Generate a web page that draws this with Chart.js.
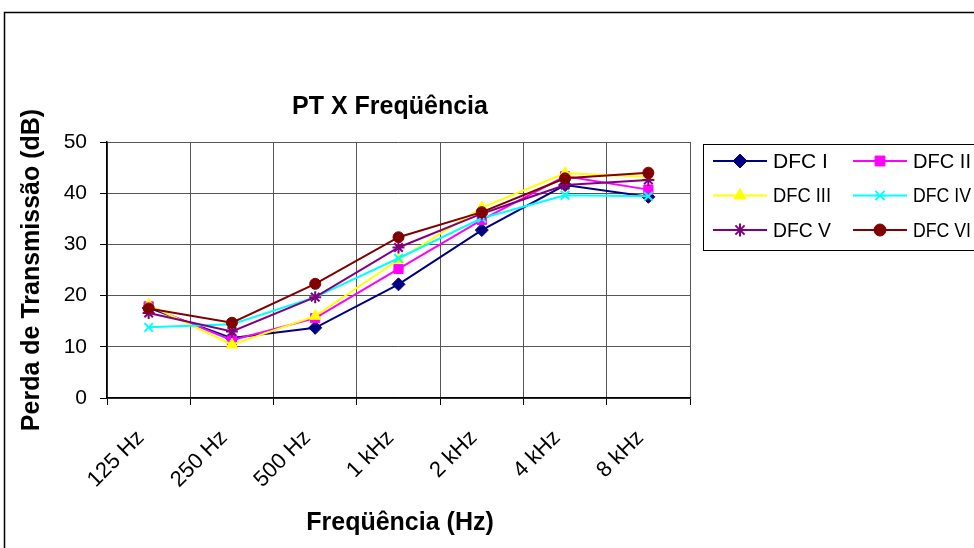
<!DOCTYPE html>
<html>
<head>
<meta charset="utf-8">
<script src="https://cdn.jsdelivr.net/npm/chart.js@4.4.0/dist/chart.umd.min.js"></script>
<style>
  body { margin: 0; background: #fff; }
  canvas { display: block; }
</style>
</head>
<body>
<canvas id="chart" width="974" height="548"></canvas>
<script>
// frequency bands
var bands = ['125 Hz', '250 Hz', '500 Hz', '1 kHz', '2 kHz', '4 kHz', '8 kHz'];
// transmission loss per sample (dB)
var dfc1 = [17.6, 11.7, 13.7, 22.2, 32.8, 41.6, 39.3];
var dfc2 = [17.9, 11.3, 15.6, 25.2, 34.8, 43.3, 40.7];
var dfc3 = [18.2, 10.4, 16.0, 27.0, 37.2, 43.9, 43.2];
var dfc4 = [13.8, 14.4, 19.7, 27.3, 35.1, 39.6, 39.4];
var dfc5 = [16.6, 13.0, 19.7, 29.4, 36.0, 41.6, 42.6];
var dfc6 = [17.5, 14.7, 22.3, 31.4, 36.3, 42.9, 44.0];
var yTicks = [0, 10, 20, 30, 40, 50];

var names = ['DFC I', 'DFC II', 'DFC III', 'DFC IV', 'DFC V', 'DFC VI'];
var series = [dfc1, dfc2, dfc3, dfc4, dfc5, dfc6];
var colors = ['#000080', '#ff00ff', '#ffff00', '#00ffff', '#800080', '#800000'];
var markers = ['rectRot', 'rect', 'triangle', 'crossRot', 'star', 'circle'];
var markerSize = [6.5, 6.5, 6.5, 6, 6, 5.5];

var FONT = '"Liberation Sans", Arial, sans-serif';

var datasets = series.map(function (d, i) {
  return {
    label: names[i],
    data: d,
    borderColor: colors[i],
    backgroundColor: colors[i],
    borderWidth: 2,
    pointStyle: markers[i],
    pointRadius: markerSize[i],
    pointBorderWidth: (markers[i] == 'crossRot' || markers[i] == 'star') ? 2 : 1,
    tension: 0,
    order: series.length - i
  };
});

// frame, title, axis titles and legend
var decor = {
  id: 'decor',
  afterDraw: function (chart) {
    var ctx = chart.ctx;
    ctx.save();
    ctx.strokeStyle = '#000';
    ctx.lineWidth = 1.5;
    ctx.beginPath();
    ctx.moveTo(4.5, 560);
    ctx.lineTo(4.5, 12.5);
    ctx.lineTo(980, 12.5);
    ctx.stroke();

    ctx.fillStyle = '#000';
    ctx.textAlign = 'center';
    ctx.textBaseline = 'middle';
    ctx.font = 'bold 25px ' + FONT;
    ctx.fillText('PT X Freqüência', 390, 107);
    ctx.fillText('Freqüência (Hz)', 400, 523);
    ctx.save();
    ctx.translate(32, 270);
    ctx.rotate(-Math.PI / 2);
    ctx.fillText('Perda de Transmissão (dB)', 0, 0);
    ctx.restore();

    // legend box
    ctx.lineWidth = 1;
    ctx.strokeStyle = '#000';
    ctx.strokeRect(703.5, 144.5, 300, 106);
    ctx.font = '21px ' + FONT;
    ctx.textAlign = 'left';
    chart.data.datasets.forEach(function (ds, i) {
      var col = i % 2, row = Math.floor(i / 2);
      var x0 = col ? 853 : 713;
      var y = 161 + row * 34.5;
      ctx.strokeStyle = ds.borderColor;
      ctx.lineWidth = 2;
      ctx.beginPath();
      ctx.moveTo(x0, y);
      ctx.lineTo(x0 + 54, y);
      ctx.stroke();
      ctx.fillStyle = ds.backgroundColor;
      ctx.lineWidth = ds.pointBorderWidth;
      Chart.helpers.drawPoint(ctx, {
        pointStyle: ds.pointStyle,
        radius: ds.pointRadius + 0.5,
        borderWidth: ds.pointBorderWidth,
        rotation: 0
      }, x0 + 27, y);
      ctx.fillStyle = '#000';
      ctx.fillText(ds.label, x0 + 60, y + 1, 58);
    });
    ctx.restore();
  }
};

var chart = new Chart('chart', {
  type: 'line',
  data: { labels: bands, datasets: datasets },
  options: {
    responsive: false,
    animation: false,
    devicePixelRatio: 1,
    layout: { padding: { left: 0, top: 142, right: 284, bottom: 0 } },
    plugins: {
      legend: { display: false },
      title: { display: false },
      tooltip: { enabled: false }
    },
    scales: {
      x: {
        offset: true,
        grid: { offset: true, color: '#555', lineWidth: 1, tickLength: 7, tickColor: '#000' },
        border: { color: '#000', width: 1.5 },
        ticks: {
          color: '#000',
          font: { family: FONT, size: 22 },
          minRotation: 45,
          maxRotation: 45,
          padding: 20,
          labelOffset: -8
        },
        afterFit: function (scale) { scale.height = 150; }
      },
      y: {
        min: 0,
        max: 50,
        afterBuildTicks: function (scale) {
          scale.ticks = yTicks.map(function (v) { return { value: v }; });
        },
        grid: { color: '#555', lineWidth: 1, tickLength: 7, tickColor: '#000' },
        border: { color: '#000', width: 1.5 },
        ticks: {
          color: '#000',
          font: { family: FONT, size: 21 },
          padding: 13
        },
        afterFit: function (scale) { scale.width = 107; }
      }
    }
  },
  plugins: [decor]
});
</script>
</body>
</html>
